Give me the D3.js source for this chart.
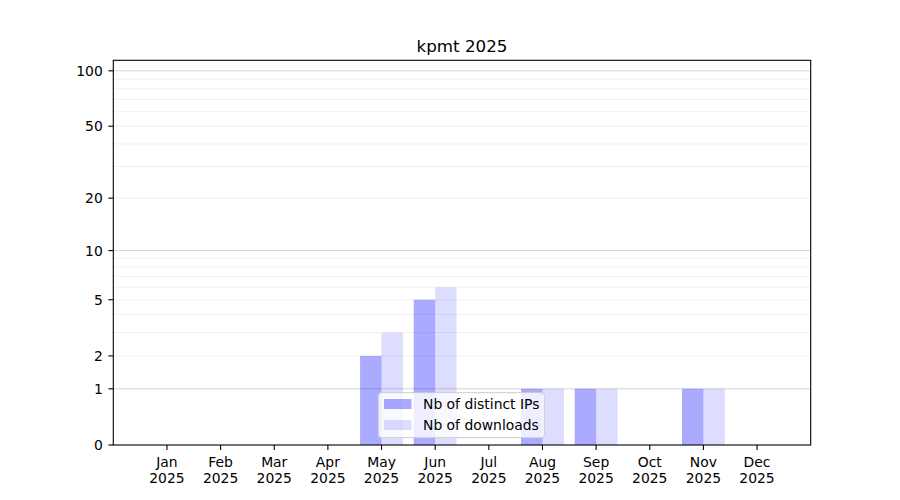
<!DOCTYPE html>
<html><head><meta charset="utf-8">
<script src="https://cdn.jsdelivr.net/npm/d3@7"></script>
<style>body{margin:0;background:#fff}text{font-family:"DejaVu Sans",sans-serif}</style>
</head><body>
<svg id="c" width="900" height="500"></svg>
<script>
const title = "kpmt 2025";
const months = ["Jan","Feb","Mar","Apr","May","Jun","Jul","Aug","Sep","Oct","Nov","Dec"];
const yearLabel = "2025";
const distinctIPs = [0,0,0,0,2,5,0,1,1,0,1,0];
const downloads   = [0,0,0,0,3,6,0,1,1,0,1,0];
const yTicks = [0,1,2,5,10,20,50,100];
const majorGrid = [1,10,100];
const minorGrid = [2,3,4,5,6,7,8,9,20,30,40,50,60,70,80,90];
const yMax = 114;
const seriesNames = ["Nb of distinct IPs","Nb of downloads"];

const svg = d3.select("#c");
const L = 113.3, R = 810.7, T = 60.3, B = 445;
const t = v => Math.log10(1 + v);
const yLin = d3.scaleLinear().domain([0, t(yMax)]).range([B, T]);
const y = v => yLin(t(v));
const x = d3.scaleLinear().domain([-1, 12]).range([L, R]);
const bw = 0.4;

// grid
svg.append("g").selectAll("line").data(minorGrid).join("line")
  .attr("x1", L).attr("x2", R).attr("y1", d => y(d)).attr("y2", d => y(d))
  .attr("stroke", "#ebebeb").attr("stroke-width", 0.8);
svg.append("g").selectAll("line").data(majorGrid).join("line")
  .attr("x1", L).attr("x2", R).attr("y1", d => y(d)).attr("y2", d => y(d))
  .attr("stroke", "#cbcbcb").attr("stroke-width", 0.8);

// bars
svg.append("g").selectAll("rect").data(distinctIPs).join("rect")
  .attr("x", (d,i) => x(i - bw)).attr("width", (d,i) => x(i) - x(i - bw))
  .attr("y", d => y(d)).attr("height", d => B - y(d))
  .attr("fill", "#0000ff").attr("fill-opacity", 0.333);
svg.append("g").selectAll("rect").data(downloads).join("rect")
  .attr("x", (d,i) => x(i)).attr("width", (d,i) => x(i + bw) - x(i))
  .attr("y", d => y(d)).attr("height", d => B - y(d))
  .attr("fill", "#0000ff").attr("fill-opacity", 0.135);

// frame
svg.append("rect").attr("x", L).attr("y", T).attr("width", R - L).attr("height", B - T)
  .attr("fill", "none").attr("stroke", "#000").attr("stroke-width", 1.1);

// y ticks
const yg = svg.append("g");
yTicks.forEach(v => {
  yg.append("line").attr("x1", L - 4.9).attr("x2", L).attr("y1", y(v)).attr("y2", y(v))
    .attr("stroke", "#000").attr("stroke-width", 1.1);
  yg.append("text").attr("x", L - 10.5).attr("y", y(v) + 5).attr("text-anchor", "end")
    .attr("font-size", "13.9px").text(v);
});

// x ticks
const xg = svg.append("g");
months.forEach((m, i) => {
  xg.append("line").attr("x1", x(i)).attr("x2", x(i)).attr("y1", B).attr("y2", B + 4.9)
    .attr("stroke", "#000").attr("stroke-width", 1.1);
  xg.append("text").attr("x", x(i)).attr("y", 467).attr("text-anchor", "middle")
    .attr("font-size", "13.9px").text(m);
  xg.append("text").attr("x", x(i)).attr("y", 483).attr("text-anchor", "middle")
    .attr("font-size", "13.9px").text(yearLabel);
});

// title
svg.append("text").attr("x", (L + R) / 2).attr("y", 52).attr("text-anchor", "middle")
  .attr("font-size", "16.7px").text(title);

// legend
const lg = svg.append("g");
lg.append("rect").attr("x", 378.3).attr("y", 392.7).attr("width", 166).attr("height", 45)
  .attr("rx", 3).attr("fill", "#fff").attr("fill-opacity", 0.8)
  .attr("stroke", "#cccccc").attr("stroke-width", 1);
const legOp = [0.333, 0.135];
seriesNames.forEach((s, k) => {
  const cy = 404 + k * 21;
  lg.append("rect").attr("x", 384).attr("y", cy - 5).attr("width", 27.5).attr("height", 10)
    .attr("fill", "#0000ff").attr("fill-opacity", legOp[k]);
  lg.append("text").attr("x", 423).attr("y", cy + 5).attr("font-size", "13.9px").text(s);
});
</script>
</body></html>
